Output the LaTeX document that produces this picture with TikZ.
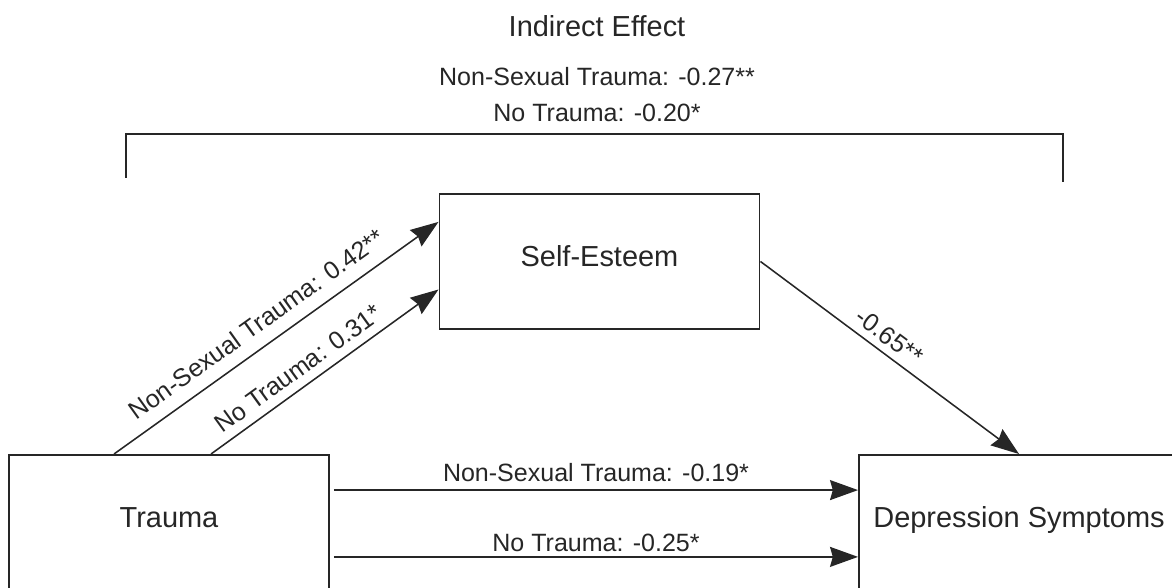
\documentclass[tikz,border=0pt]{standalone}
\usepackage{fontspec}
\setmainfont{Liberation Sans}
\usetikzlibrary{arrows.meta}
\definecolor{ink}{HTML}{262626}

\begin{document}
\begin{tikzpicture}[
    font=\fontsize{20.6}{24}\selectfont, text=ink,
    box/.style={draw=ink, line width=1.4pt, minimum width=8cm, minimum height=3.375cm,
      text height=0.716em, text depth=0pt},
    lbl/.style={font=\fontsize{17.8}{21}\selectfont},
    arr/.style={draw=ink, line width=1.1pt, -{Stealth[length=0.7cm,width=0.5cm,inset=0.07cm]}}]
  \useasboundingbox (0,0) rectangle (29.3,14.7);
  % boxes
  \node[box] (trauma) at (4.225,1.6375) {Trauma};
  \node[box] (selfesteem) at (14.9875,8.1625) {Self-Esteem};
  \node[box] (depression) at (25.475,1.6375) {Depression Symptoms};
  % indirect effect
  \node (title) at (14.925,14.05) {Indirect Effect};
  \node[lbl] (indnonsex) at (14.925,12.775) {Non-Sexual Trauma: -0.27**};
  \node[lbl] (indnone) at (14.925,11.875) {No Trauma: -0.20*};
  \draw[ink, line width=1.4pt] (3.15,10.25) |- (26.575,11.36) -- (26.575,10.15);
  % paths
  \draw[arr] ([xshift=2.65cm]trauma.north west) -- ([yshift=0.99cm]selfesteem.west)
    node[lbl, sloped, pos=0.48, above=0.2cm] {Non-Sexual Trauma: 0.42**};
  \draw[arr] ([xshift=5.075cm]trauma.north west) -- ([yshift=-0.7cm]selfesteem.west)
    node[lbl, sloped, pos=0.43, above=0.1cm] {No Trauma: 0.31*};
  \draw[arr] (selfesteem.east) -- (depression.north)
    node[lbl, sloped, pos=0.46, above=0.06cm] {-0.65**};
  \draw[arr] ([xshift=0.1cm,yshift=0.81cm]trauma.east) -- ([yshift=0.81cm]depression.west)
    node[lbl, midway, above=0.08cm] {Non-Sexual Trauma: -0.19*};
  \draw[arr] ([xshift=0.1cm,yshift=-0.86cm]trauma.east) -- ([yshift=-0.86cm]depression.west)
    node[lbl, midway, above] {No Trauma: -0.25*};
\end{tikzpicture}
\end{document}
